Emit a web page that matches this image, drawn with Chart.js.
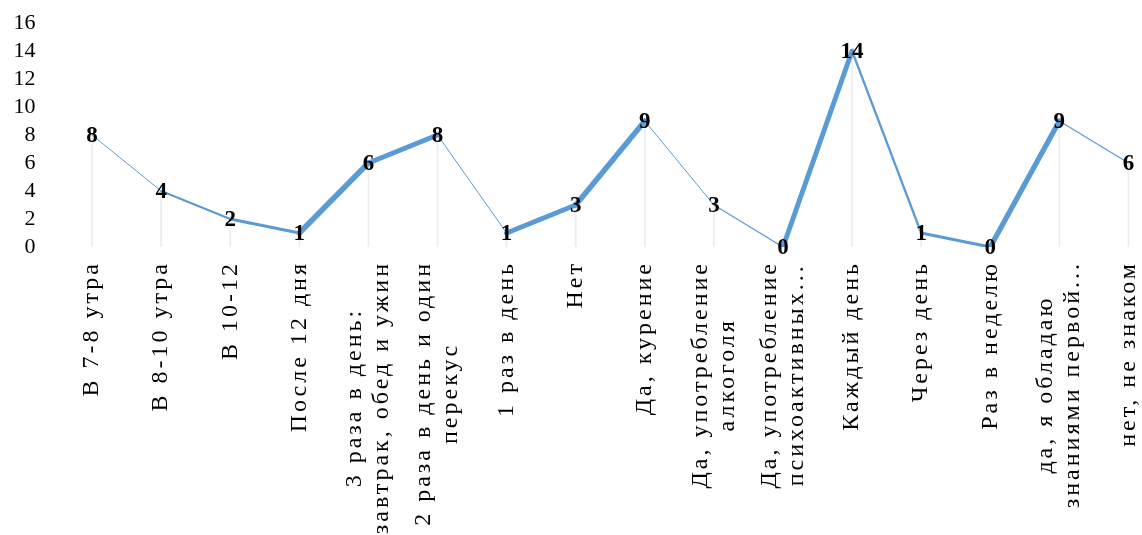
<!DOCTYPE html>
<html>
<head>
<meta charset="utf-8">
<script src="https://cdn.jsdelivr.net/npm/chart.js@4.4.1/dist/chart.umd.min.js"></script>
<style>
  html, body { margin: 0; padding: 0; background: #fff; overflow: hidden; }
  #wrap { width: 1163px; height: 535px; position: relative; }
</style>
</head>
<body>
<div id="wrap"><canvas id="myChart"></canvas></div>
<script>
// ответы анкеты
const categories = [
  'В 7-8 утра',
  'В 8-10 утра',
  'В 10-12',
  'После 12 дня',
  ['3 раза в день:', 'завтрак, обед и ужин'],
  ['2 раза в день и один', 'перекус'],
  '1 раз в день',
  'Нет',
  'Да, курение',
  ['Да, употребление', 'алкоголя'],
  ['Да, употребление', 'психоактивных...'],
  'Каждый день',
  'Через день',
  'Раз в неделю',
  ['да, я обладаю', 'знаниями первой...'],
  'нет, не знаком'
];
const answers = [8, 4, 2, 1, 6, 8, 1, 3, 9, 3, 0, 14, 1, 0, 9, 6];
const yTicks = [0, 2, 4, 6, 8, 10, 12, 14, 16];

const serif = "'Liberation Serif', 'Times New Roman', serif";
const blue = '#5B9BD5';

// ширина "ленты": толще на подъёме, тоньше на спуске (как объёмный график)
function ribbonWidth(ctx) {
  const dx = ctx.p1.x - ctx.p0.x;
  const dy = ctx.p1.y - ctx.p0.y;
  const a = Math.atan2(dy, dx) - Math.PI / 4;
  return Math.max(1, 5.5 * Math.abs(Math.sin(a)));
}

// подписи категорий, повернутые вертикально, строки по центру блока
const rotatedLabels = {
  id: 'rotatedLabels',
  afterDraw(chart) {
    const { ctx } = chart;
    const x = chart.scales.x;
    const lh = 27;
    ctx.save();
    ctx.font = '24px ' + serif;
    ctx.letterSpacing = '3px';
    ctx.fillStyle = '#000';
    ctx.textAlign = 'right';
    ctx.textBaseline = 'middle';
    categories.forEach((lab, i) => {
      const lines = Array.isArray(lab) ? lab : [lab];
      const widths = lines.map(l => ctx.measureText(l).width);
      const w = Math.max(...widths);
      ctx.save();
      ctx.translate(x.getPixelForTick(i), x.top + 14);
      ctx.rotate(-Math.PI / 2);
      lines.forEach((l, j) => {
        ctx.fillText(l, -(w - widths[j]) / 2, (j - (lines.length - 1) / 2) * lh);
      });
      ctx.restore();
    });
    ctx.restore();
  }
};

// значения над точками
const valueLabels = {
  id: 'valueLabels',
  afterDatasetsDraw(chart) {
    const { ctx } = chart;
    const meta = chart.getDatasetMeta(1);
    ctx.save();
    ctx.font = 'bold 23px ' + serif;
    ctx.fillStyle = '#000';
    ctx.textAlign = 'center';
    ctx.textBaseline = 'middle';
    meta.data.forEach((pt, i) => {
      ctx.fillText(String(answers[i]), pt.x, pt.y + 1);
    });
    ctx.restore();
  }
};

const ctx = document.getElementById('myChart').getContext('2d');

new Chart(ctx, {
  data: {
    labels: categories,
    datasets: [{
      type: 'bar',
      data: answers,
      backgroundColor: '#ededed',
      barThickness: 1,
      order: 2
    }, {
      type: 'line',
      data: answers,
      borderColor: blue,
      borderWidth: 3,
      borderCapStyle: 'round',
      pointRadius: 0,
      tension: 0,
      order: 1,
      segment: {
        borderWidth: ribbonWidth
      }
    }]
  },
  options: {
    responsive: true,
    maintainAspectRatio: false,
    animation: false,
    layout: { padding: { top: 23, right: 0, left: 0, bottom: 0 } },
    plugins: {
      legend: { display: false },
      tooltip: { enabled: false }
    },
    scales: {
      x: {
        offset: true,
        grid: { display: false, drawTicks: false },
        border: { display: false },
        ticks: { display: false },
        afterFit: s => { s.height = 288; }
      },
      y: {
        min: yTicks[0],
        max: yTicks[yTicks.length - 1],
        grid: { display: false, drawTicks: false },
        border: { display: false },
        ticks: {
          autoSkip: false,
          padding: 22,
          color: '#000',
          font: { family: serif, size: 22 }
        },
        afterBuildTicks: s => { s.ticks = yTicks.map(v => ({ value: v })); },
        afterFit: s => {
          s.width = 57.5;
          s.paddingTop = 0;
          s.paddingBottom = 0;
        }
      }
    }
  },
  plugins: [rotatedLabels, valueLabels]
});
</script>
</body>
</html>
